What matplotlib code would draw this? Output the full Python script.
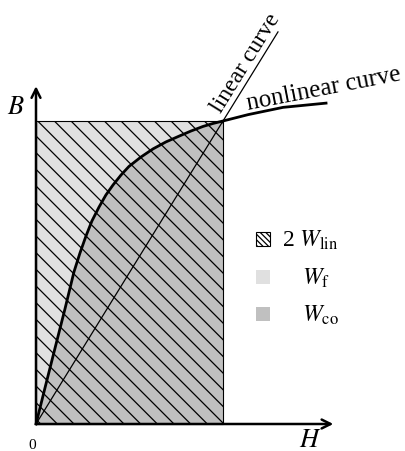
import matplotlib.pyplot as plt
import numpy as np
from matplotlib.patches import Rectangle

plt.rcParams['font.family'] = ['Liberation Serif', 'DejaVu Serif']
plt.rcParams['mathtext.fontset'] = 'stix'
plt.rcParams['hatch.linewidth'] = 0.9

# magnetisation curve (H, B), rectangle corner at (1, 1)
H = [0, 0.048, 0.102, 0.155, 0.203, 0.235, 0.267, 0.299, 0.337, 0.374, 0.412,
     0.455, 0.497, 0.561, 0.626, 0.695, 0.765, 0.829, 0.893, 0.947, 1.0,
     1.134, 1.321, 1.551]
B = [0, 0.119, 0.251, 0.380, 0.502, 0.564, 0.620, 0.670, 0.716, 0.756, 0.789,
     0.822, 0.850, 0.881, 0.908, 0.931, 0.950, 0.967, 0.982, 0.992, 1.0,
     1.021, 1.045, 1.059]
H_op = 1.0
B_op = 1.0
H_lin_end = 1.294

legend_labels = ["2 $W_{\\mathrm{lin}}$", "$W_{\\mathrm{f}}$", "$W_{\\mathrm{co}}$"]

light = '#e0e0e0'
dark = '#c0c0c0'

fig = plt.figure(figsize=(4.06, 4.52), dpi=100)
ax = fig.add_axes([0, 0, 1, 1])
ax.set_xlim(-36 / 187, 370 / 187)
ax.set_ylim(-27 / 303, 425 / 303)
ax.axis('off')

H = np.array(H)
B = np.array(B)
inside = H <= H_op

# W_f: whole rectangle light, W_co: under the curve dark
ax.add_patch(Rectangle((0, 0), H_op, B_op, facecolor=light, edgecolor='none', zorder=1))
ax.fill_between(H[inside], 0, B[inside], color=dark, lw=0, zorder=2)
# 2 W_lin: hatched rectangle
ax.add_patch(Rectangle((0, 0), H_op, B_op, facecolor='none', edgecolor='black',
                       hatch='\\\\', lw=0.8, zorder=3))

# linear and nonlinear curves
ax.plot([0, H_lin_end], [0, H_lin_end * B_op / H_op], color='black', lw=0.9, zorder=4)
ax.plot(H, B, color='black', lw=2.0, zorder=5, solid_joinstyle='round')

# axes arrows
ax.annotate('', xy=(0, 1.115), xytext=(0, 0),
            arrowprops=dict(arrowstyle='->', lw=1.8, color='black', mutation_scale=16,
                            shrinkA=0, shrinkB=0), zorder=6)
ax.annotate('', xy=(1.59, 0), xytext=(0, 0),
            arrowprops=dict(arrowstyle='->', lw=1.8, color='black', mutation_scale=16,
                            shrinkA=0, shrinkB=0), zorder=6)

ax.text(-0.107, 1.046, '$B$', fontsize=19, ha='center', va='center')
ax.text(1.465, -0.053, '$H$', fontsize=19, ha='center', va='center')
ax.text(-0.02, -0.068, '0', fontsize=11, ha='center', va='center')

ax.text(1.12, 1.195, 'linear curve', fontsize=17, rotation=58.3,
        ha='center', va='center', rotation_mode='anchor')
ax.text(1.54, 1.108, 'nonlinear curve', fontsize=18, rotation=11,
        ha='center', va='center', rotation_mode='anchor')

# legend
boxes = [dict(facecolor='white', edgecolor='black', hatch='\\\\\\\\\\\\', lw=0.8),
         dict(facecolor=light, edgecolor='none'),
         dict(facecolor=dark, edgecolor='none')]
ys = [240, 278, 315]
xs = [282, 302, 302]
for kw, y, x, lab in zip(boxes, ys, xs, legend_labels):
    fig.patches.append(Rectangle((256 / 406, 1 - (y + 7) / 452), 14 / 406, 14 / 452,
                                 transform=fig.transFigure, **kw))
    fig.text(x / 406, 1 - y / 452, lab, fontsize=17, ha='left', va='center')

plt.savefig('out.png', dpi=100)
